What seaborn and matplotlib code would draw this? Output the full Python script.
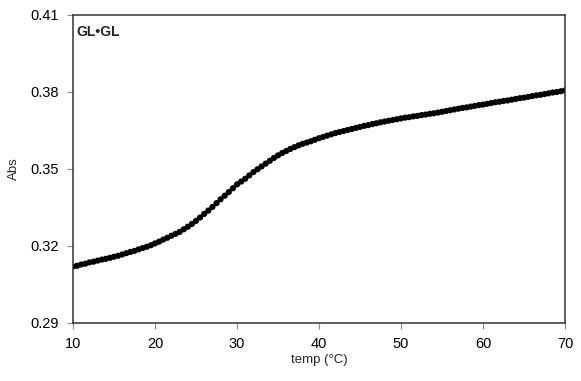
import numpy as np
import pandas as pd
import matplotlib
matplotlib.use("Agg")
import matplotlib.pyplot as plt
import seaborn as sns

# Temperature (°C), read every 0.5 °C
temp = [10.0 + 0.5 * i for i in range(121)]
# Absorbance values
absorb = [
    0.3120, 0.3123, 0.3128, 0.3131, 0.3136, 0.3139, 0.3143, 0.3147, 0.3150, 0.3154,
    0.3158, 0.3162, 0.3167, 0.3172, 0.3177, 0.3181, 0.3187, 0.3192, 0.3197, 0.3203,
    0.3210, 0.3217, 0.3225, 0.3232, 0.3240, 0.3247, 0.3255, 0.3265, 0.3275, 0.3286,
    0.3298, 0.3311, 0.3325, 0.3338, 0.3352, 0.3367, 0.3382, 0.3396, 0.3410, 0.3425,
    0.3440, 0.3451, 0.3462, 0.3475, 0.3488, 0.3499, 0.3510, 0.3521, 0.3532, 0.3543,
    0.3553, 0.3562, 0.3570, 0.3578, 0.3585, 0.3592, 0.3598, 0.3603, 0.3608, 0.3614,
    0.3620, 0.3625, 0.3630, 0.3635, 0.3640, 0.3644, 0.3648, 0.3652, 0.3656, 0.3660,
    0.3664, 0.3668, 0.3671, 0.3675, 0.3678, 0.3682, 0.3685, 0.3688, 0.3691, 0.3694,
    0.3697, 0.3700, 0.3702, 0.3705, 0.3707, 0.3710, 0.3712, 0.3715, 0.3717, 0.3720,
    0.3723, 0.3726, 0.3729, 0.3732, 0.3735, 0.3738, 0.3740, 0.3743, 0.3746, 0.3749,
    0.3751, 0.3754, 0.3757, 0.3760, 0.3762, 0.3765, 0.3767, 0.3770, 0.3773, 0.3776,
    0.3778, 0.3781, 0.3784, 0.3787, 0.3789, 0.3792, 0.3795, 0.3798, 0.3800, 0.3803,
    0.3806,
]
x_ticks = [10, 20, 30, 40, 50, 60, 70]
y_ticks = [0.29, 0.32, 0.35, 0.38, 0.41]
y_tick_labels = ["0.29", "0.32", "0.35", "0.38", "0.41"]

sns.set_theme(style="ticks")
plt.rcParams["font.family"] = ["Liberation Sans", "DejaVu Sans"]

df = pd.DataFrame({"temp": temp, "Abs": absorb})

fig = plt.figure(figsize=(5.81, 3.81), dpi=100)
ax = fig.add_axes([73 / 581, 1 - 323 / 381, (565 - 73) / 581, (323 - 15) / 381])

sns.scatterplot(data=df, x="temp", y="Abs", ax=ax, color="black", s=20,
                edgecolor="none", legend=False)

ax.set_xlim(10, 70)
ax.set_ylim(0.29, 0.41)
ax.set_xticks(x_ticks)
ax.set_xticklabels([str(t) for t in x_ticks])
ax.set_yticks(y_ticks)
ax.set_yticklabels(y_tick_labels)

for sp in ax.spines.values():
    sp.set_visible(True)
    sp.set_color("#333333")
    sp.set_linewidth(1.1)

ax.tick_params(axis="both", direction="out", length=4, width=0.8,
               color="#888888", labelsize=10.5, labelcolor="black", pad=6)

ax.set_xlabel("temp (°C)", fontsize=9.5, labelpad=2)
ax.set_ylabel("Abs", fontsize=9.5, labelpad=8)

ax.text(0.006, 0.945, "GL•GL", transform=ax.transAxes, fontsize=10,
        fontweight="bold", ha="left", va="center")

fig.savefig("out.png", dpi=100)
